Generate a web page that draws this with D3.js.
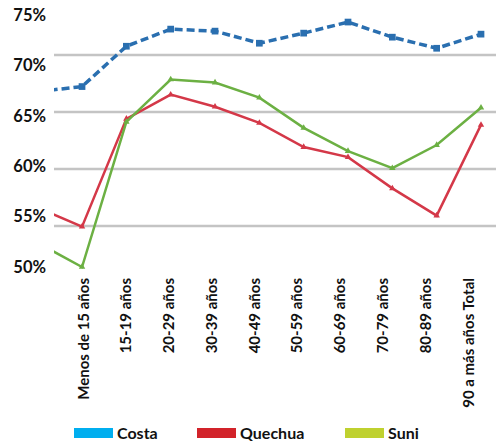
<!DOCTYPE html>
<html>
<head>
<meta charset="utf-8">
<script src="https://cdn.jsdelivr.net/npm/d3@7"></script>
<style>
  body { margin: 0; background: #fff; }
  #chart { width: 496px; height: 443px; }
  text { font-family: Lato, "Liberation Sans", sans-serif; font-weight: bold; fill: #111; }
</style>
</head>
<body>
<div id="chart"></div>
<script>
// categories (first one is cut off by the left edge of the plot)
let categories = ["prev", "Menos de 15 años", "15-19 años", "20-29 años", "30-39 años", "40-49 años",
    "50-59 años", "60-69 años", "70-79 años", "80-89 años", "90 a más años Total"];
let tickLabels = categories.slice(1);
let yTicks = [50, 55, 60, 65, 70, 75];

let costa   = [67.4, 67.9, 71.9, 73.6, 73.4, 72.2, 73.2, 74.3, 72.8, 71.7, 73.1];
let quechua = [55.9, 54.0, 64.7, 67.1, 65.9, 64.3, 61.9, 60.9, 57.8, 55.1, 64.1];
let suni    = [52.4, 50.0, 64.4, 68.6, 68.3, 66.8, 63.8, 61.5, 59.8, 62.1, 65.8];

let seriesNames = ["Costa", "Quechua", "Suni"];

let width = 496, height = 443;

let svg = d3.select("#chart").append("svg")
    .attr("width", width)
    .attr("height", height);

// scales
let x = d3.scalePoint().domain(categories).range([37.7, 481]);
let xLabel = d3.scalePoint().domain(tickLabels).range([83, 468]);
let y = d3.scaleLinear().domain([50, 75]).range([267, 15]);
// gridlines sit on their own spacing in the original
let yGrid = d3.scaleLinear().domain([50, 75]).range([283, -2]);

svg.append("clipPath").attr("id", "plot-clip")
    .append("rect").attr("x", 54).attr("y", 0).attr("width", width - 54).attr("height", 290);

// gridlines
svg.append("g").selectAll("line")
    .data([55, 60, 65, 70])
    .enter().append("line")
    .attr("x1", 54).attr("x2", width)
    .attr("y1", d => yGrid(d)).attr("y2", d => yGrid(d))
    .attr("stroke", "#c4c4c4")
    .attr("stroke-width", 2.5);

// y axis labels
svg.append("g").selectAll("text")
    .data(yTicks)
    .enter().append("text")
    .attr("x", 46)
    .attr("y", d => y(d))
    .attr("dy", "0.35em")
    .attr("text-anchor", "end")
    .style("font-size", "16.5px")
    .text(d => d + "%");

// x axis labels
svg.append("g").selectAll("text")
    .data(tickLabels)
    .enter().append("text")
    .attr("text-anchor", "end")
    .attr("transform", d => `translate(${xLabel(d) + 5.5}, 278) rotate(-90)`)
    .style("font-size", "15px")
    .text(d => d);

let plot = svg.append("g").attr("clip-path", "url(#plot-clip)");

let line = d3.line()
    .x((d, i) => x(categories[i]))
    .y(d => y(d));

let styles = [
    {data: costa, color: "#2a6fb0", width: 3.5, dash: "8,4", symbol: d3.symbolSquare, size: 45},
    {data: quechua, color: "#d43848", width: 2.5, dash: null, symbol: d3.symbolTriangle, size: 18},
    {data: suni, color: "#6cb043", width: 2.5, dash: null, symbol: d3.symbolTriangle, size: 18}
];

styles.forEach(s => {
    plot.append("path")
        .datum(s.data)
        .attr("d", line)
        .attr("fill", "none")
        .attr("stroke", s.color)
        .attr("stroke-width", s.width)
        .attr("stroke-dasharray", s.dash);

    plot.selectAll(null)
        .data(s.data)
        .enter().append("path")
        .attr("d", d3.symbol().type(s.symbol).size(s.size))
        .attr("transform", (d, i) => `translate(${x(categories[i])}, ${y(d)})`)
        .attr("fill", s.color);
});

// legend
let legendColors = ["#00aeef", "#d2232a", "#bfd12f"];
let legendX = d3.scaleOrdinal().domain(seriesNames).range([74, 197, 345]);

let legend = svg.append("g").selectAll("g")
    .data(seriesNames)
    .enter().append("g")
    .attr("transform", d => `translate(${legendX(d)}, 433)`);

legend.append("rect")
    .attr("x", 0).attr("y", -5)
    .attr("width", 39).attr("height", 10)
    .attr("fill", (d, i) => legendColors[i]);

legend.append("text")
    .attr("x", 43)
    .attr("dy", "0.35em")
    .style("font-size", "16px")
    .text(d => d);
</script>
</body>
</html>
